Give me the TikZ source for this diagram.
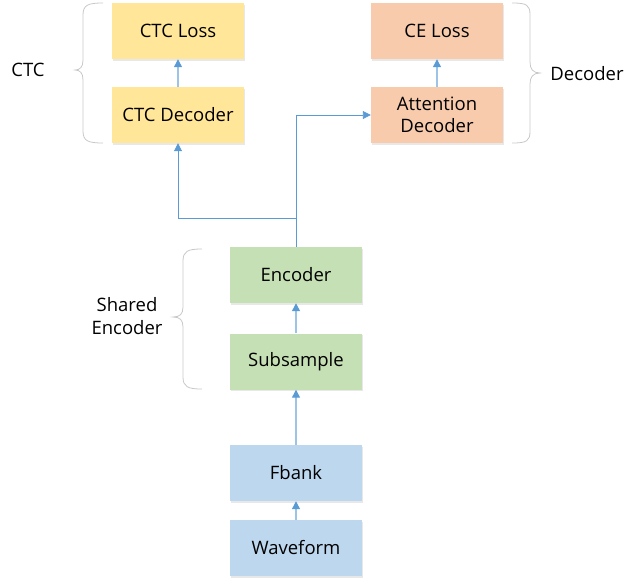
\documentclass[tikz,border=0pt]{standalone}
\usepackage{fontspec}
\setmainfont{Open Sans}
\usetikzlibrary{arrows.meta,shadows}
\definecolor{ctcY}{HTML}{FFE699}
\definecolor{ceO}{HTML}{F8CBAD}
\definecolor{encG}{HTML}{C5E0B4}
\definecolor{inB}{HTML}{BDD7EE}
\definecolor{lineB}{HTML}{5B9BD5}
\definecolor{lineL}{HTML}{9DC3E6}
\definecolor{braceG}{HTML}{C8C8C8}
\tikzset{
  box/.style={draw=none, minimum width=132pt, minimum height=56pt, inner sep=0pt, align=center,
    font=\fontsize{18.5}{22.5}\selectfont,
    drop shadow={opacity=0.18, shadow xshift=0.8pt, shadow yshift=-1.6pt}},
  link/.style={draw=lineB, line width=0.9pt, -{Triangle[width=8pt,length=8pt]}},
  shortlink/.style={draw=lineL, line width=1.2pt, -{Triangle[width=8pt,length=8pt,fill=lineB,color=lineB]}},
  plainlink/.style={draw=lineB, line width=0.9pt},
  bracestyle/.style={draw=braceG, line width=0.8pt},
  lbl/.style={font=\fontsize{18.5}{23}\selectfont, align=center, inner sep=0pt}
}
\begin{document}
\begin{tikzpicture}[x=1pt,y=-1pt]
\useasboundingbox (0,0) rectangle (635,584);
% boxes
\node[box, fill=ctcY] (ctcloss) at (178,31) {CTC Loss};
\node[box, fill=ctcY] (ctcdec) at (178,115) {CTC Decoder};
\node[box, fill=ceO] (celoss) at (437,31) {CE Loss};
\node[box, fill=ceO] (attdec) at (437,115) {Attention\\Decoder};
\node[box, fill=encG] (enc) at (296,275) {Encoder};
\node[box, fill=encG] (sub) at (296,361.5) {Subsample};
\node[box, fill=inB] (fbank) at (296,473) {Fbank};
\node[box, fill=inB] (wave) at (296,548) {Waveform};
% labels
\node[lbl] (lctc) at (28,70) {CTC};
\node[lbl] (ldec) at (587,74) {Decoder};
\node[lbl] (lenc) at (127,316) {Shared\\Encoder};
% braces
\draw[bracestyle] (103,3) .. controls (88,3) and (83,5) .. (83,15) -- (83,60)
  .. controls (83,67) and (80,70) .. (75,70) .. controls (80,70) and (83,73) .. (83,80)
  -- (83,131) .. controls (83,141) and (88,143) .. (103,143);
\draw[bracestyle] (512,3) .. controls (527,3) and (530,5) .. (530,15) -- (530,62)
  .. controls (530,69) and (533,73) .. (540,73) .. controls (533,73) and (530,77) .. (530,84)
  -- (530,131) .. controls (530,141) and (527,143) .. (512,143);
\draw[bracestyle] (202,249) .. controls (188,249) and (183,251) .. (183,261) -- (183,307)
  .. controls (183,314) and (180,317) .. (173,317) .. controls (180,317) and (183,320) .. (183,327)
  -- (183,377) .. controls (183,387) and (188,389) .. (202,389);
% connectors
\coordinate (split) at (296,218);
\draw[shortlink] (wave.north) -- (fbank.south);
\draw[shortlink] (fbank.north) -- (sub.south);
\draw[shortlink] (sub.north) -- (enc.south);
\draw[plainlink] (enc.north) -- (split);
\draw[link] (split) -| (ctcdec.south);
\draw[link] (split) |- (attdec.west);
\draw[shortlink] (ctcdec.north) -- (ctcloss.south);
\draw[shortlink] (attdec.north) -- (celoss.south);
\end{tikzpicture}
\end{document}
